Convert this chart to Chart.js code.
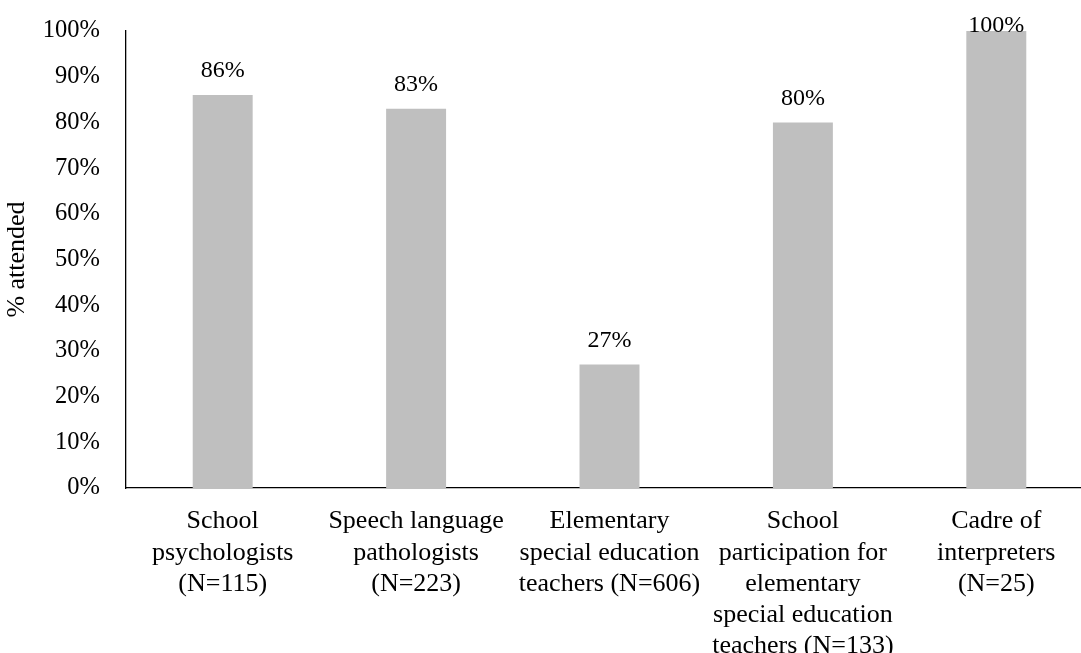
<!DOCTYPE html>
<html>
<head>
<meta charset="utf-8">
<script src="https://cdn.jsdelivr.net/npm/chart.js@4/dist/chart.umd.min.js"></script>
<style>
  html, body { margin: 0; padding: 0; background: #fff; overflow: hidden; }
  #wrap { position: relative; width: 1100px; height: 653px; }
</style>
</head>
<body>
<div id="wrap"><canvas id="chart"></canvas></div>
<script>
// Attendance by group
const categories = [
  ["School", "psychologists", "(N=115)"],
  ["Speech language", "pathologists", "(N=223)"],
  ["Elementary", "special education", "teachers (N=606)"],
  ["School", "participation for", "elementary", "special education", "teachers (N=133)"],
  ["Cadre of", "interpreters", "(N=25)"]
];
const attendedPct = [86, 83, 27, 80, 100];
const yTicks = [0, 10, 20, 30, 40, 50, 60, 70, 80, 90, 100];

const FONT = '"Liberation Serif", "Times New Roman", serif';

// Value labels above each bar
const valueLabels = {
  id: 'valueLabels',
  afterDatasetsDraw(chart) {
    const ctx = chart.ctx;
    const meta = chart.getDatasetMeta(0);
    ctx.save();
    ctx.font = '24px ' + FONT;
    ctx.fillStyle = '#000';
    ctx.textAlign = 'center';
    ctx.textBaseline = 'middle';
    meta.data.forEach((bar, i) => {
      const v = chart.data.datasets[0].data[i];
      ctx.fillText(v + '%', bar.x, Math.max(bar.y - 24, 26));
    });
    ctx.restore();
  }
};

new Chart(document.getElementById('chart'), {
  type: 'bar',
  data: {
    labels: categories,
    datasets: [{
      data: attendedPct,
      backgroundColor: '#bfbfbf',
      borderWidth: 0,
      categoryPercentage: 1,
      barPercentage: 0.31
    }]
  },
  options: {
    responsive: true,
    maintainAspectRatio: false,
    animation: false,
    layout: { padding: { top: 31, right: 7, left: 0, bottom: 0 } },
    plugins: { legend: { display: false }, tooltip: { enabled: false } },
    scales: {
      x: {
        grid: { display: false, drawTicks: false },
        border: { display: true, color: '#000', width: 1.3 },
        ticks: {
          color: '#000',
          font: { family: FONT, size: 26, lineHeight: 1.2 },
          padding: 18,
          autoSkip: false,
          maxRotation: 0,
          minRotation: 0
        },
        afterFit(scale) { scale.height = 165; }
      },
      y: {
        min: 0,
        max: 100,
        afterBuildTicks(scale) { scale.ticks = yTicks.map(v => ({ value: v })); },
        grid: { display: false, drawTicks: false },
        border: { display: true, color: '#000', width: 1.3 },
        ticks: {
          color: '#000',
          font: { family: FONT, size: 24.5 },
          padding: 26,
          callback: v => v + '%'
        },
        title: {
          display: true,
          text: '% attended',
          color: '#000',
          font: { family: FONT, size: 26 },
          padding: 2
        },
        afterFit(scale) {
          scale.width = 126;
          scale.paddingTop = 0;
          scale.paddingBottom = 0;
        }
      }
    }
  },
  plugins: [valueLabels]
});
</script>
</body>
</html>
